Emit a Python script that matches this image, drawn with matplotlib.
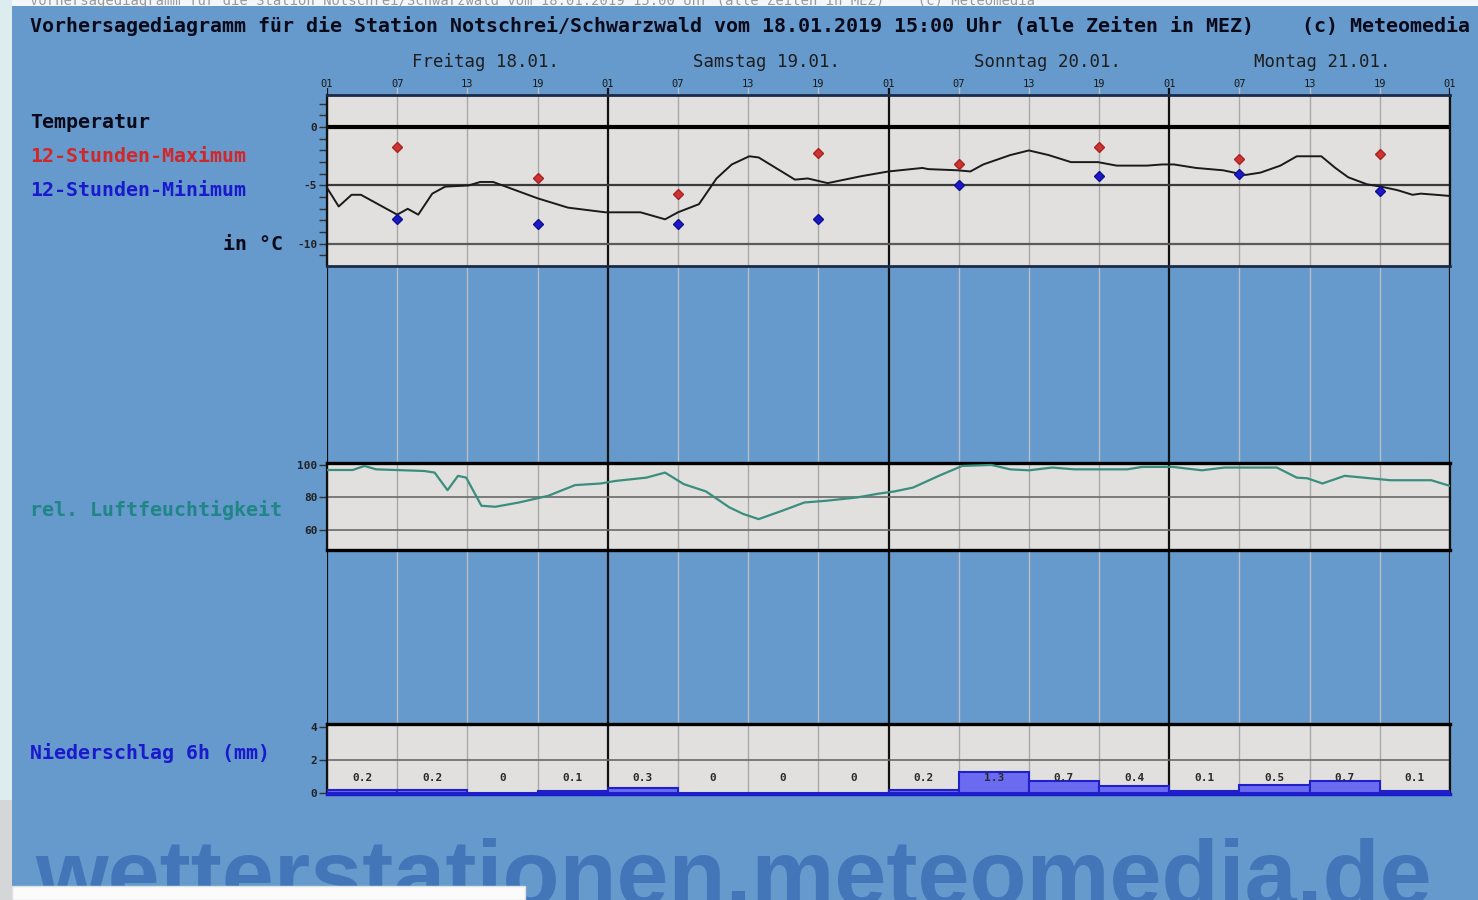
import matplotlib
matplotlib.use('Agg')
import matplotlib.pyplot as plt
from matplotlib.patches import Rectangle

W, H = 1478, 900

# ---------------- data ----------------
title = ("Vorhersagediagramm für die Station Notschrei/Schwarzwald vom 18.01.2019 "
         "15:00 Uhr (alle Zeiten in MEZ)    (c) Meteomedia")
hour_labels = ["01", "07", "13", "19"] * 4 + ["01"]
day_labels = ["Freitag 18.01.", "Samstag 19.01.", "Sonntag 20.01.", "Montag 21.01."]

temp_hours = [0, 1.0, 2.1, 2.9, 6.0, 6.9, 7.8, 9.0, 10.1, 12.1, 13.1, 14.2, 18.0, 20.6,
              23.8, 26.8, 28.9, 30.0, 31.8, 33.3, 34.6, 36.1, 36.9, 40.0, 41.1, 42.8,
              45.7, 48.0, 50.9, 51.4, 53.9, 55.0, 56.1, 58.4, 60.0, 61.7, 63.6, 65.9,
              67.5, 70.1, 71.4, 72.4, 74.3, 76.6, 78.5, 79.8, 81.5, 82.9, 85.0, 86.2,
              87.3, 88.9, 90.1, 91.5, 92.8, 93.5, 94.8, 96.0]
temp_vals = [-5.2, -6.8, -5.8, -5.8, -7.5, -7.0, -7.5, -5.7, -5.1, -5.0, -4.7, -4.7, -6.1,
             -6.9, -7.3, -7.3, -7.9, -7.3, -6.6, -4.4, -3.2, -2.5, -2.6, -4.5, -4.4, -4.8,
             -4.2, -3.8, -3.5, -3.6, -3.7, -3.8, -3.2, -2.4, -2.0, -2.4, -3.0, -3.0,
             -3.3, -3.3, -3.2, -3.2, -3.5, -3.7, -4.1, -3.9, -3.3, -2.5, -2.5, -3.5,
             -4.3, -4.9, -5.1, -5.4, -5.8, -5.7, -5.8, -5.9]

ext_hours = [6, 18, 30, 42, 54, 66, 78, 90]
tmax_vals = [-1.7, -4.4, -5.7, -2.2, -3.2, -1.7, -2.7, -2.3]
tmin_vals = [-7.9, -8.3, -8.3, -7.9, -5.0, -4.2, -4.0, -5.5]

rh_hours = [0, 2.2, 3.2, 4.2, 8.3, 9.2, 10.3, 11.2, 11.9, 13.2, 14.4, 16.4, 18.9, 21.2,
            23.4, 24.7, 27.3, 28.9, 30.5, 32.4, 34.4, 35.6, 36.9, 38.9, 40.8, 42.7, 45.3,
            47.2, 48.5, 50.1, 52.3, 54.3, 56.8, 58.4, 60.0, 62.0, 63.9, 68.4, 69.7, 72.3,
            74.8, 76.7, 81.2, 82.9, 83.8, 85.1, 87.0, 88.6, 90.9, 94.4, 96.0]
rh_vals = [96.9, 96.9, 99.4, 97.3, 96.3, 95.3, 84.5, 93.3, 92.2, 74.9, 74.3, 76.9, 81.0,
           87.6, 88.6, 90.2, 92.2, 95.3, 88.2, 83.7, 73.9, 69.8, 66.7, 71.8, 76.9, 78.0,
           80.0, 82.4, 83.7, 86.1, 93.3, 99.4, 100.0, 97.3, 96.7, 98.4, 97.3, 97.3, 98.8,
           98.8, 96.7, 98.4, 98.4, 92.2, 91.8, 88.6, 93.3, 92.2, 90.6, 90.6, 87.1]

precip_start = [0, 6, 12, 18, 24, 30, 36, 42, 48, 54, 60, 66, 72, 78, 84, 90]
precip_vals = [0.2, 0.2, 0, 0.1, 0.3, 0, 0, 0, 0.2, 1.3, 0.7, 0.4, 0.1, 0.5, 0.7, 0.1]
precip_labels = ["0.2", "0.2", "0", "0.1", "0.3", "0", "0", "0",
                 "0.2", "1.3", "0.7", "0.4", "0.1", "0.5", "0.7", "0.1"]

# ---------------- style ----------------
BLUE_BG = '#6699cc'
PANEL = '#e1e0de'
MONO = 'DejaVu Sans Mono'

fig = plt.figure(figsize=(W / 100, H / 100), dpi=100, facecolor=BLUE_BG)


def fx(x):
    return x / W


def fy(y):
    return 1 - y / H


def rect(x0, y0, x1, y1):
    return [fx(x0), fy(y1), fx(x1) - fx(x0), fy(y0) - fy(y1)]


# decorations of the screenshot
fig.patches.append(Rectangle((0, fy(6)), 1, 1 - fy(6), transform=fig.transFigure,
                             facecolor='#f4f7f9', edgecolor='none', zorder=0))
fig.patches.append(Rectangle((0, 0), fx(12), 1, transform=fig.transFigure,
                             facecolor='#dcecef', edgecolor='none', zorder=0))
fig.patches.append(Rectangle((0, 0), fx(12), fy(800), transform=fig.transFigure,
                             facecolor='#d4d6d8', edgecolor='none', zorder=0))
fig.text(fx(30), fy(0.5), title, fontsize=10, color='#9a9a9a', family=MONO,
         va='center', ha='left')

X0, X1 = 327, 1450
grid_hours = list(range(0, 97, 6))

# background axes with vertical lines through the blue gaps
bg = fig.add_axes(rect(X0, 88, X1, 794))
bg.set_xlim(0, 96)
bg.set_ylim(0, 1)
bg.patch.set_visible(False)
for s in bg.spines.values():
    s.set_visible(False)
bg.set_xticks([])
bg.set_yticks([])
for h in grid_hours:
    if h % 24 == 0:
        bg.axvline(h, color='#111111', lw=1.6)
    else:
        bg.axvline(h, color='#b8bcc4', lw=1.0)


def make_panel(y0, y1, ylim):
    ax = fig.add_axes(rect(X0, y0, X1, y1))
    ax.set_facecolor(PANEL)
    ax.set_xlim(0, 96)
    ax.set_ylim(*ylim)
    ax.set_xticks([])
    for h in grid_hours:
        if h % 24 == 0:
            ax.axvline(h, color='#111111', lw=1.6, zorder=1)
        else:
            ax.axvline(h, color='#a8a8a8', lw=1.0, zorder=1)
    for side in ['top', 'bottom']:
        ax.spines[side].set_color('#1a2a4a')
        ax.spines[side].set_linewidth(2)
    for side in ['left', 'right']:
        ax.spines[side].set_color('#111111')
        ax.spines[side].set_linewidth(1.6)
    ax.tick_params(axis='y', direction='out', length=6, width=1, color='#333333',
                   labelsize=8, pad=1, labelcolor='#222222')
    return ax


# ---------- temperature ----------
axT = make_panel(95, 266, (-11.9, 2.75))
axT.set_yticks([0, -5, -10])
axT.set_yticklabels(['0', '-5', '-10'], fontweight='bold', family=MONO)
axT.set_yticks(list(range(-11, 3)), minor=True)
axT.tick_params(axis='y', which='minor', direction='out', length=6, width=1, color='#333333')
axT.axhline(0, color='#000000', lw=3, zorder=2)
axT.axhline(-5, color='#3a3a3a', lw=1.6, zorder=2)
axT.axhline(-10, color='#5a5a5a', lw=1.6, zorder=2)
axT.plot(temp_hours, temp_vals, color='#1a1a1a', lw=1.4, zorder=3)
axT.plot(ext_hours, tmax_vals, ls='none', marker='D', ms=5, color='#cc3333',
         markeredgecolor='#aa2222', zorder=4)
axT.plot(ext_hours, tmin_vals, ls='none', marker='D', ms=5, color='#1a1acc',
         markeredgecolor='#10108a', zorder=4)

# ---------- humidity ----------
axH = make_panel(463, 550, (47.7, 101.2))
axH.set_yticks([100, 80, 60])
axH.set_yticklabels(['100', '80', '60'], fontweight='bold', family=MONO)
axH.spines['top'].set_color('#000000')
axH.spines['top'].set_linewidth(2.4)
axH.spines['bottom'].set_color('#000000')
axH.spines['bottom'].set_linewidth(2.4)
axH.axhline(80, color='#6a6a6a', lw=1.2, zorder=2)
axH.axhline(60, color='#6a6a6a', lw=1.2, zorder=2)
axH.plot(rh_hours, rh_vals, color='#3a8e7e', lw=1.6, zorder=3)

# ---------- precipitation ----------
axP = make_panel(724, 794, (-0.06, 4.18))
axP.set_yticks([4, 2, 0])
axP.set_yticklabels(['4', '2', '0'], fontweight='bold', family=MONO)
axP.spines['top'].set_color('#000000')
axP.spines['top'].set_linewidth(2.4)
axP.spines['bottom'].set_color('#1a1acc')
axP.spines['bottom'].set_linewidth(2.5)
axP.axhline(2, color='#6a6a6a', lw=1.2, zorder=2)
axP.bar(precip_start, precip_vals, width=6, align='edge', color='#6b6bf2',
        edgecolor='#2020c8', lw=1.5, zorder=3)
for s, lab in zip(precip_start, precip_labels):
    axP.text(s + 3, 0.9, lab, ha='center', va='center', fontsize=8, fontweight='bold',
             family=MONO, color='#2a2a2a', zorder=5)

# ---------- texts ----------
fig.text(fx(30), fy(26), title, fontsize=14.4, fontweight='bold', family=MONO,
         color='#0a0a1a', va='center', ha='left')

for h, lab in zip(grid_hours, hour_labels):
    xp = X0 + (X1 - X0) * h / 96
    fig.text(fx(xp), fy(84), lab, fontsize=7.5, family=MONO, color='#1a1a1a',
             ha='center', va='center')
for i, lab in enumerate(day_labels):
    xp = X0 + (X1 - X0) * i / 4 + 85
    fig.text(fx(xp), fy(62), lab, fontsize=12.5, family=MONO, color='#1e1e1e',
             ha='left', va='center')

fig.text(fx(30), fy(122), "Temperatur", fontsize=14.4, fontweight='bold', family=MONO,
         color='#0a0a1a', va='center', ha='left')
fig.text(fx(30), fy(157), "12-Stunden-Maximum", fontsize=14.4, fontweight='bold',
         family=MONO, color='#d02828', va='center', ha='left')
fig.text(fx(30), fy(191), "12-Stunden-Minimum", fontsize=14.4, fontweight='bold',
         family=MONO, color='#1a1acc', va='center', ha='left')
fig.text(fx(283), fy(244), "in °C", fontsize=14.4, fontweight='bold', family=MONO,
         color='#0a0a1a', va='center', ha='right')
fig.text(fx(30), fy(510), "rel. Luftfeuchtigkeit", fontsize=14.4, fontweight='bold',
         family=MONO, color='#1f8585', va='center', ha='left')
fig.text(fx(30), fy(753), "Niederschlag 6h (mm)", fontsize=14.4, fontweight='bold',
         family=MONO, color='#1a1acc', va='center', ha='left')

# watermark
wm = fig.text(fx(35), fy(905), "wetterstationen.meteomedia.de", fontsize=60,
              fontweight='bold', family='Liberation Sans', color='#4376b8',
              va='baseline', ha='left')
fig.canvas.draw()
bb = wm.get_window_extent()
wm.set_fontsize(60 * 1395 / bb.width)

fig.patches.append(Rectangle((fx(12), 0), fx(525) - fx(12), fy(886),
                             transform=fig.transFigure, facecolor='#fbfbfb',
                             edgecolor='#e0e0e0', zorder=10))

fig.savefig('out.png', dpi=100, facecolor=BLUE_BG)
